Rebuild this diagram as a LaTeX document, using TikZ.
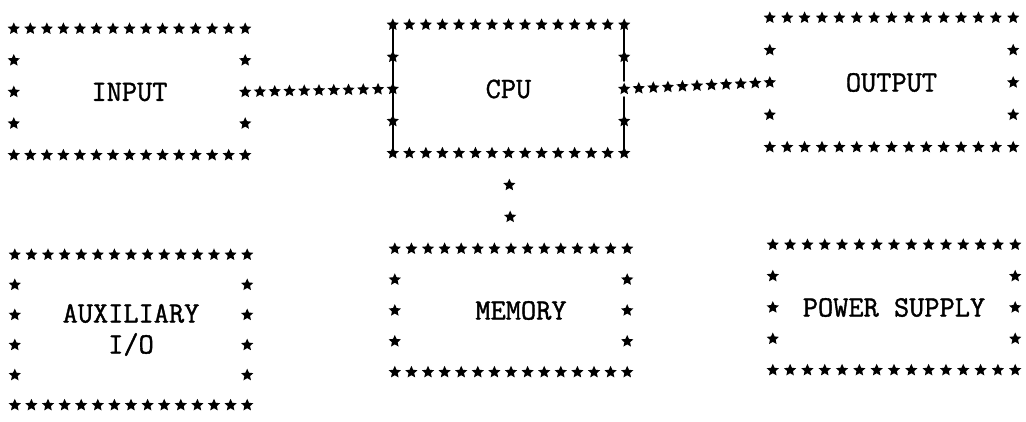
\documentclass[tikz,border=0pt]{standalone}
\usepackage{fontspec}
\newfontfamily\twfont[FakeBold=1.3]{Latin Modern Mono}
\usetikzlibrary{calc}
\tikzset{
  astr/.pic={\fill (90:6.4pt) -- (126:3.0pt) -- (162:6.4pt) -- (198:3.0pt) -- (234:6.4pt)
     -- (270:3.0pt) -- (306:6.4pt) -- (342:3.0pt) -- (18:6.4pt) -- (54:3.0pt) -- cycle;},
  boxn/.style={rectangle, inner sep=0pt, align=center,
     font=\twfont\fontsize{29.5}{31}\selectfont},
  cpuline/.style={line width=1.6pt, line cap=round}
}
\newcommand\StarBorder[2]{%
  \foreach \i in {0,...,14}{
    \pic at ($(#1.north west)!\i/14!(#1.north east)$) {astr};
    \pic at ($(#1.south west)!\i/14!(#1.south east)$) {astr};}
  \pgfmathtruncatemacro\nrws{#2-2}
  \foreach \j in {1,...,\nrws}{
    \pic at ($(#1.north west)!\j/(#2-1)!(#1.south west)$) {astr};
    \pic at ($(#1.north east)!\j/(#2-1)!(#1.south east)$) {astr};}
}
\newcommand\StarLink[3]{%
  \foreach \k in {1,...,#3}{\pic at ($(#1)!\k/(#3+1)!(#2)$) {astr};}
}
\begin{document}
\begin{tikzpicture}[x=1pt,y=-1pt]
\useasboundingbox (0,0) rectangle (1026,421);
% boxes
\node[boxn, minimum width=231pt, minimum height=126pt] (input)  at (129.5,92)  {INPUT};
\node[boxn, minimum width=231pt, minimum height=128pt] (cpu)    at (508.5,89)  {CPU};
\node[boxn, minimum width=243pt, minimum height=129pt] (output) at (891.5,82.5) {OUTPUT};
\node[boxn, minimum width=232pt, minimum height=150pt] (aux)    at (131,330)   {AUXILIARY\\I/O};
\node[boxn, minimum width=232pt, minimum height=123pt] (memory) at (511,310.5) {\hspace*{20pt}MEMORY};
\node[boxn, minimum width=242pt, minimum height=125pt] (power)  at (894,307.5) {POWER SUPPLY};
\StarBorder{input}{5}
\StarBorder{cpu}{5}
\StarBorder{output}{5}
\StarBorder{aux}{6}
\StarBorder{memory}{5}
\StarBorder{power}{5}
% connectors
\StarLink{input.east}{cpu.west}{9}
\StarLink{cpu.east}{output.west}{9}
\StarLink{cpu.south}{memory.north}{2}
% hand-drawn lines on the CPU box
\draw[cpuline] (cpu.north west) -- (cpu.south west);
\draw[cpuline] (cpu.north east) -- ($(cpu.east)+(0,-8)$);
\draw[cpuline] ($(cpu.east)+(0,8)$) -- (cpu.south east);
\end{tikzpicture}
\end{document}
